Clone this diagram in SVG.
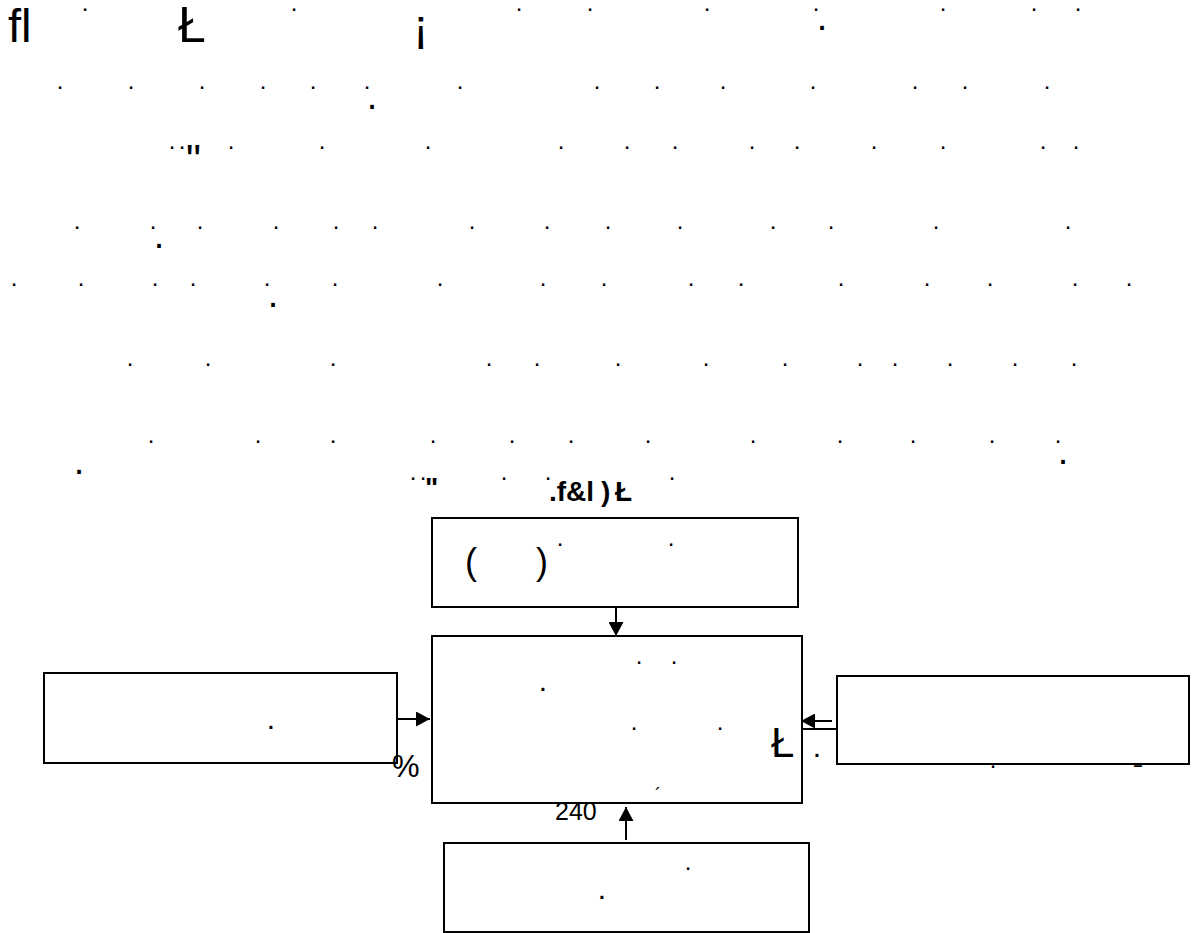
<svg xmlns="http://www.w3.org/2000/svg" width="1192" height="933" viewBox="0 0 1192 933">
<style>
text{font-family:"Liberation Sans",Arial,sans-serif;fill:#000}
.d{font-size:24px;text-anchor:middle}
.m{font-size:30px;text-anchor:middle}
.b{font-size:38px;text-anchor:middle}
.box{fill:#fff;stroke:#000;stroke-width:2}
.c{stroke:#000;stroke-width:2;fill:none}
.t{font-weight:bold;font-size:28px}
</style>
<defs>
<marker id="ah" viewBox="0 0 14 15" refX="14" refY="7.5" markerWidth="14" markerHeight="15" markerUnits="userSpaceOnUse" orient="auto">
<path d="M0,0 L14,7.5 L0,15 z" fill="#000"/>
</marker>
</defs>
<rect width="1192" height="933" fill="#fff"/>
<g id="text-rows">
<text x="8" y="42" font-size="47">ﬂ</text>
<text x="178" y="42" font-size="50">Ł</text>
<text x="413" y="42" font-size="47">¡</text>
<text class="d" x="85 294 519 590 707 816 943 1034 1078" y="11">.........</text>
<text class="d" x="60 131 202 263 313 367 460 597 657 723 813 915 965 1047" y="89">..............</text>
<text class="d" x="172 182 231 322 428 561 627 675 752 797 874 943 1043 1076" y="149">..............</text>
<text x="186" y="174" font-size="42">"</text>
<text class="d" x="77 153 200 276 336 375 472 547 608 680 773 831 936 1068" y="229">..............</text>
<text class="d" x="14 81 155 193 267 335 440 543 604 691 741 841 927 990 1075 1129" y="286">................</text>
<text class="d" x="130 208 333 489 537 618 706 785 860 895 950 1015 1074" y="366">.............</text>
<text class="d" x="151 258 333 433 512 571 648 753 840 913 992 1058" y="443">............</text>
<text class="b" x="822 372 159 273 79 1063" y="30 109 248 307 474 464">......</text>
<text class="d" x="413 423 504 548 672" y="480">.....</text>
<text class="t" x="425" y="497">"</text>
<text class="t" x="549" y="501">.f&amp;l</text>
<text class="t" x="601" y="501">)</text>
<text class="t" x="615" y="501">Ł</text>
</g>
<g id="connectors">
<line class="c" x1="616" y1="607" x2="616" y2="636" marker-end="url(#ah)"/>
<line class="c" x1="397" y1="719" x2="430" y2="719" marker-end="url(#ah)"/>
<line class="c" x1="832" y1="721" x2="801" y2="721" marker-end="url(#ah)"/>
<line class="c" x1="837" y1="729" x2="802" y2="729"/>
<line class="c" x1="626" y1="840" x2="626" y2="807" marker-end="url(#ah)"/>
</g>
<g id="node-top">
<rect class="box" x="432" y="518" width="366" height="89"/>
<text x="465" y="574" font-size="36">(</text>
<text x="536" y="574" font-size="36">)</text>
<text class="d" x="560 671" y="546">..</text>
</g>
<g id="node-center">
<rect class="box" x="432" y="636" width="370" height="167"/>
<text class="d" x="639 674 634 720" y="664 664 730 730">....</text>
<text class="m" x="543" y="691">.</text>
<text x="771" y="757" font-size="42">Ł</text>
<text x="655" y="801" font-size="18">´</text>
</g>
<g id="node-left">
<rect class="box" x="44" y="673" width="353" height="90"/>
<text class="m" x="271" y="729">.</text>
</g>
<g id="node-right">
<rect class="box" x="837" y="676" width="352" height="88"/>
<text class="m" x="817" y="757">.</text>
<text class="d" x="993" y="768">.</text>
<text x="1138" y="771" font-size="16" text-anchor="middle" font-weight="bold">–</text>
</g>
<g id="node-bottom">
<rect class="box" x="444" y="843" width="365" height="89"/>
<text class="d" x="688" y="870">.</text>
<text class="m" x="602" y="899">.</text>
</g>
<g id="labels">
<text x="392" y="777" font-size="31">%</text>
<text x="555" y="820" font-size="25">240</text>
</g>
</svg>
